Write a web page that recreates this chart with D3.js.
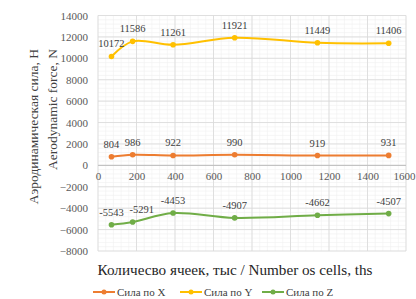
<!DOCTYPE html>
<html>
<head>
<meta charset="utf-8">
<script src="https://cdn.jsdelivr.net/npm/d3@7"></script>
</head>
<body style="margin:0">
<script>
// cells, thousands
var cells = [70, 180, 390, 710, 1140, 1510]
var forceX = [804, 986, 922, 990, 919, 931]
var forceY = [10172, 11586, 11261, 11921, 11449, 11406]
var forceZ = [-5543, -5291, -4453, -4907, -4662, -4507]

var seriesNames = ["Сила по X", "Сила по Y", "Сила по Z"]
var colors = ["#ED7D31", "#FFC000", "#70AD47"]

var xTicks = [0, 200, 400, 600, 800, 1000, 1200, 1400, 1600]
var yTicks = [-8000, -6000, -4000, -2000, 0, 2000, 4000, 6000, 8000, 10000, 12000, 14000]

var font = "'Liberation Serif', 'Times New Roman', monospace"

var margin = {top: 15.5, right: 10, bottom: 48, left: 98},
    width = 416 - margin.left - margin.right,
    height = 299 - margin.top - margin.bottom;

var svg = d3.select("body").append("svg")
    .attr("width", 416)
    .attr("height", 299)

var g = svg.append("g")
    .attr("transform", "translate(" + margin.left + "," + margin.top + ")")

var x = d3.scaleLinear().domain([0, 1600]).range([0, width])
var y = d3.scaleLinear().domain([-8000, 14000]).range([height, 0])

// minor grid
g.append("g").selectAll("line").data(d3.range(0, 1601, 40)).enter()
  .append("line")
    .attr("x1", function(d){return x(d)}).attr("x2", function(d){return x(d)})
    .attr("y1", 0).attr("y2", height)
    .attr("stroke", "#f0f0f0").attr("stroke-width", 0.6)
g.append("g").selectAll("line").data(d3.range(-8000, 14001, 400)).enter()
  .append("line")
    .attr("y1", function(d){return y(d)}).attr("y2", function(d){return y(d)})
    .attr("x1", 0).attr("x2", width)
    .attr("stroke", "#f0f0f0").attr("stroke-width", 0.6)

// major grid
g.append("g").selectAll("line").data(xTicks).enter()
  .append("line")
    .attr("x1", function(d){return x(d)}).attr("x2", function(d){return x(d)})
    .attr("y1", 0).attr("y2", height)
    .attr("stroke", "#d9d9d9").attr("stroke-width", 0.8)
g.append("g").selectAll("line").data(yTicks).enter()
  .append("line")
    .attr("y1", function(d){return y(d)}).attr("y2", function(d){return y(d)})
    .attr("x1", 0).attr("x2", width)
    .attr("stroke", "#d9d9d9").attr("stroke-width", 0.8)

// zero line
g.append("line")
  .attr("x1", 0).attr("x2", width)
  .attr("y1", y(0)).attr("y2", y(0))
  .attr("stroke", "#bfbfbf").attr("stroke-width", 1)

// axes labels (no domain lines)
var xAxis = d3.axisBottom(x).tickValues(xTicks).tickSize(0).tickPadding(7).tickFormat(d3.format("d"))
var yAxis = d3.axisLeft(y).tickValues(yTicks).tickSize(0).tickPadding(10).tickFormat(d3.format("d"))

var gx = g.append("g").attr("transform", "translate(0," + y(0) + ")").call(xAxis)
var gy = g.append("g").call(yAxis)
gx.select(".domain").remove()
gy.select(".domain").remove()
gx.attr("font-family", null).attr("font-size", 11)
gy.attr("font-family", null).attr("font-size", 11)
svg.selectAll(".tick text")
  .style("font-family", font)
  .attr("fill", "#595959")
gx.select(".tick:last-of-type text").attr("dx", -2)

var series = [forceX, forceY, forceZ]

var line = d3.line()
  .x(function(d, i){return x(cells[i])})
  .y(function(d){return y(d)})
  .curve(d3.curveCatmullRom.alpha(0.5))

series.forEach(function(vals, s){
  g.append("path")
    .datum(vals)
    .attr("fill", "none")
    .attr("stroke", colors[s])
    .attr("stroke-width", 2)
    .attr("d", line)

  g.selectAll(".pt" + s).data(vals).enter()
    .append("circle")
      .attr("cx", function(d, i){return x(cells[i])})
      .attr("cy", function(d){return y(d)})
      .attr("r", 2.8)
      .attr("fill", colors[s])

  g.selectAll(".lbl" + s).data(vals).enter()
    .append("text")
      .attr("x", function(d, i){return x(cells[i])})
      .attr("y", function(d){return y(d) - 9})
      .attr("dx", function(d, i){return (s == 2 && i == 1) ? 9 : 0}) // keep -5291 clear of -5543
      .attr("text-anchor", "middle")
      .attr("font-size", 10.5)
      .attr("fill", "#404040")
      .style("font-family", font)
      .text(function(d){return d})
})

// y axis title, top aligned
var yt = svg.append("text")
  .attr("transform", "translate(38,49) rotate(-90)")
  .attr("text-anchor", "end")
  .attr("font-size", 13.5)
  .attr("fill", "#404040")
  .style("font-family", font)
yt.append("tspan").attr("x", 0).attr("dy", 0).text("Аэродинамическая сила, Н")
yt.append("tspan").attr("x", 0).attr("dy", 19).text("Aerodynamic force, N")

// x axis title
svg.append("text")
  .attr("x", 235)
  .attr("y", 275)
  .attr("text-anchor", "middle")
  .attr("font-size", 15.2)
  .attr("fill", "#262626")
  .style("font-family", font)
  .text("Количесво ячеек, тыс / Number os cells, ths")

// legend
var legendX = [93, 180, 262]
var legend = svg.selectAll(".legends").data(seriesNames).enter()
  .append("g")
    .attr("transform", function(d, i){return "translate(" + legendX[i] + ",292)"})
legend.append("line")
  .attr("x1", 0).attr("x2", 22).attr("y1", 0).attr("y2", 0)
  .attr("stroke", function(d, i){return colors[i]}).attr("stroke-width", 2)
legend.append("circle")
  .attr("cx", 11).attr("cy", 0).attr("r", 2.5)
  .attr("fill", function(d, i){return colors[i]})
legend.append("text")
  .attr("x", 24).attr("y", 3.5)
  .attr("font-size", 11)
  .attr("fill", "#404040")
  .style("font-family", font)
  .text(function(d){return d})
</script>
</body>
</html>
